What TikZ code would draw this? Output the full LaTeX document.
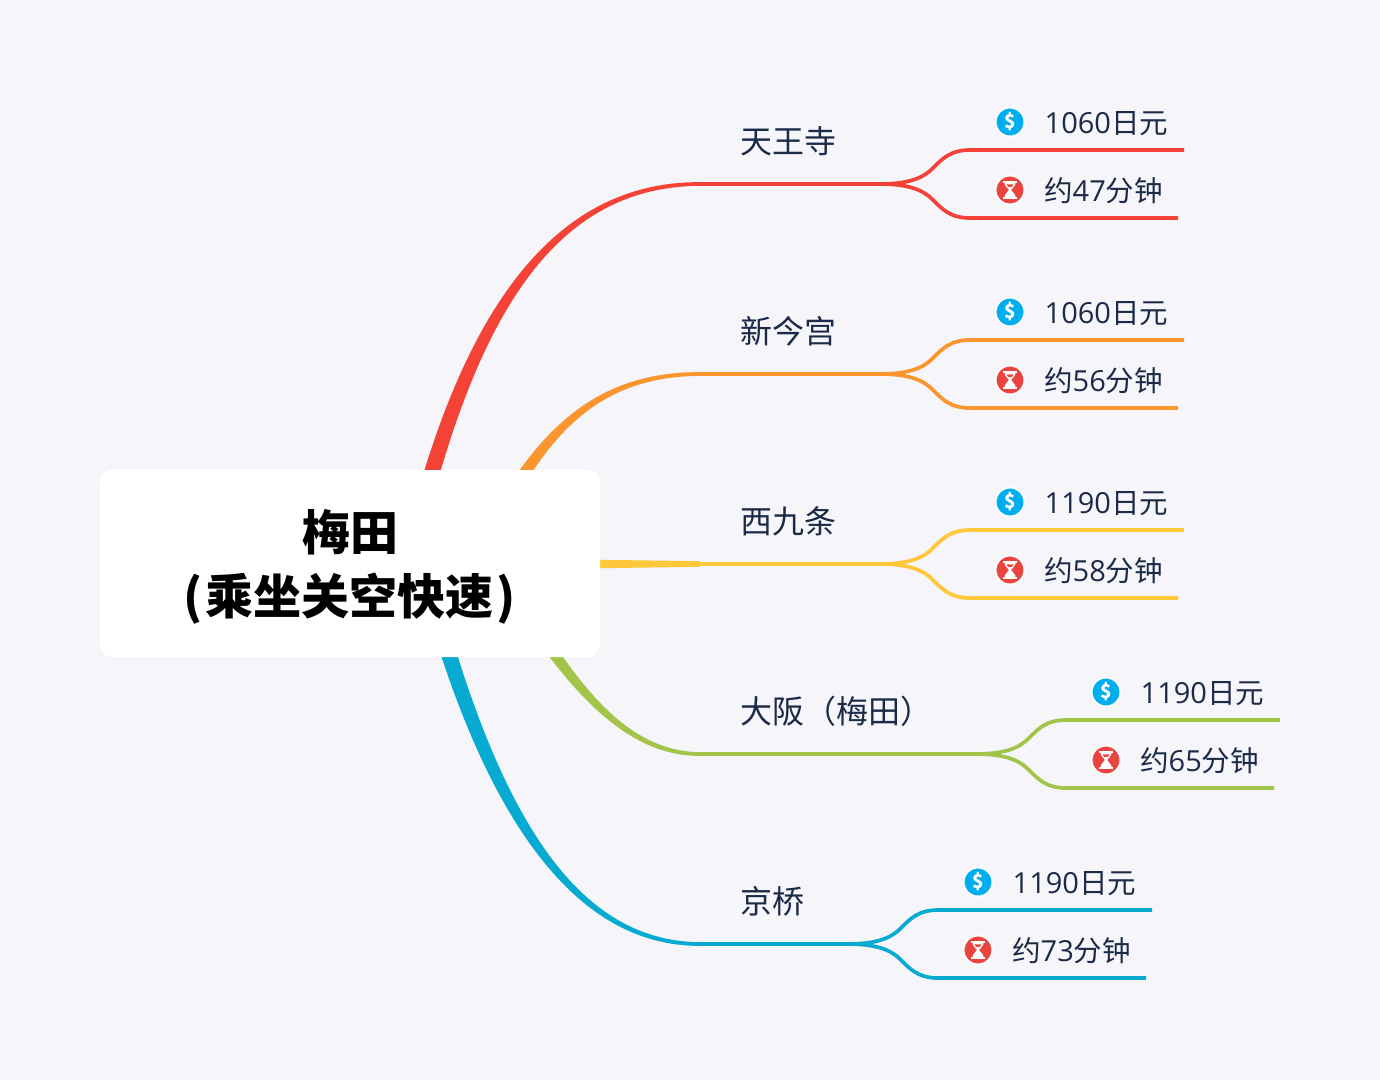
\documentclass[tikz,border=0pt]{standalone}
\usepackage{fontspec}
\setmainfont{Noto Sans CJK SC}
\newfontfamily\digf{Open Sans}
\usetikzlibrary{calc}
\definecolor{bgc}{HTML}{F5F5FA}
\definecolor{inkc}{HTML}{1B2A47}
\definecolor{redc}{HTML}{F44336}
\definecolor{orac}{HTML}{FB962E}
\definecolor{yelc}{HTML}{FFC83A}
\definecolor{grnc}{HTML}{A2C449}
\definecolor{bluc}{HTML}{07ABD1}
\definecolor{icoa}{HTML}{00ADEF}
\definecolor{icob}{HTML}{E9443F}
\newcommand{\dg}[1]{{\digf\fontsize{29}{29}\selectfont #1}}
\tikzset{
  rootbox/.style={fill=white,rounded corners=12pt,minimum width=500pt,minimum height=187pt,inner sep=0pt,align=center,text=black,font=\fontsize{48}{64}\selectfont\bfseries},
  topicbox/.style={anchor=base west,inner sep=0pt,text=inkc,font=\fontsize{32}{32}\selectfont},
  leafbox/.style={anchor=base west,inner sep=0pt,text=inkc,font=\fontsize{28.5}{28.5}\selectfont},
  icobase/.style={circle,minimum size=28.5pt,inner sep=0pt,draw=white,line width=1.5pt,text=white},
  costicon/.style={icobase,fill=icoa,font=\fontsize{19}{19}\selectfont\bfseries},
  timeicon/.style={icobase,fill=icob},
  linkline/.style={line width=3.7pt},
  pics/hourglass/.style={code={
    \begin{scope}[scale=1.25]
    \fill[white] (-5.5,-7.2) rectangle (5.5,-5.8);
    \fill[white] (-5.5,5.8) rectangle (5.5,7.2);
    \fill[white] (-4.2,-5.8) -- (4.2,-5.8) -- (4.2,-4.2) -- (0.9,0) -- (4.2,4.2) -- (4.2,5.8) -- (-4.2,5.8) -- (-4.2,4.2) -- (-0.9,0) -- (-4.2,-4.2) -- cycle;
    \fill[icob] (-2.9,-4.6) -- (2.9,-4.6) -- (1.6,-2.6) -- (-1.6,-2.6) -- cycle;
    \end{scope}
  }}
}
% #1 colour, #2 start, #3 control 1, #4 control 2, #5 end, #6 start offset, #7 control-1 offset
\newcommand{\ribbon}[7]{%
  \fill[#1] ($(#2)+(#6)$) .. controls ($(#3)+(#7)$) and ($(#4)+(0,2.6)$) .. ($(#5)+(0,1.85)$)
    -- ($(#5)+(0,-1.85)$) .. controls ($(#4)+(0,-2.6)$) and ($(#3)-(#7)$) .. ($(#2)-(#6)$) -- cycle;
}
% #1 id, #2 colour, #3 leaf shift, #4 y of the branch, #5 topic, #6 cost, #7 time
\newcommand{\branchset}[7]{%
  \begin{scope}[shift={(700,#4)}]
    \node[topicbox] (t#1) at (40,-31) {#5};
    \coordinate (k#1) at (0,0);
    \coordinate (s#1) at (180+#3,0);
    \coordinate (m#1u) at (232+#3,-15);
    \coordinate (m#1d) at (232+#3,15);
    \coordinate (e#1u) at (270+#3,-34);
    \coordinate (e#1d) at (270+#3,34);
    \coordinate (f#1u) at (484+#3,-34);
    \coordinate (f#1d) at (478+#3,34);
    \node[costicon] (c#1) at (310+#3,-62) {\$};
    \node[timeicon] (h#1) at (310+#3,6) {};
    \pic at (h#1) {hourglass};
    \node[leafbox] (a#1) at (344.5+#3,-51) {#6};
    \node[leafbox] (b#1) at (344+#3,17) {#7};
    \draw[#2,linkline] (k#1) -- (s#1);
    \draw[#2,linkline] (s#1) .. controls +(26,0) and ($(m#1u)+(-10,10)$) .. (m#1u) .. controls +(10,-10) and ($(e#1u)+(-20,0)$) .. (e#1u) -- (f#1u);
    \draw[#2,linkline] (s#1) .. controls +(26,0) and ($(m#1d)+(-10,-10)$) .. (m#1d) .. controls +(10,10) and ($(e#1d)+(-20,0)$) .. (e#1d) -- (f#1d);
  \end{scope}
}
\begin{document}
\begin{tikzpicture}[x=1pt,y=-1pt]
\useasboundingbox (0,0) rectangle (1380,1080);
\fill[bgc] (0,0) rectangle (1380,1080);
% tapered main branches
\coordinate (ra) at (408,564); \coordinate (ra1) at (466,310); \coordinate (ra2) at (555,184); \coordinate (rae) at (700,184);
\coordinate (rb) at (475,564); \coordinate (rb1) at (532,440); \coordinate (rb2) at (590,374); \coordinate (rbe) at (700,374);
\coordinate (rc) at (350,564); \coordinate (rce) at (700,564);
\coordinate (rd) at (496,564); \coordinate (rd1) at (560,670); \coordinate (rd2) at (617,754); \coordinate (rde) at (700,754);
\coordinate (re) at (423,564); \coordinate (re1) at (485,805); \coordinate (re2) at (570,944); \coordinate (ree) at (700,944);
\ribbon{redc}{ra}{ra1}{ra2}{rae}{8,2}{7.4,3}
\ribbon{orac}{rb}{rb1}{rb2}{rbe}{7.2,3.5}{5,3.2}
\ribbon{grnc}{rd}{rd1}{rd2}{rde}{-7.2,3.5}{-5,3.2}
\ribbon{bluc}{re}{re1}{re2}{ree}{-8,2}{-7.4,3}
\fill[yelc] ($(rc)+(0,-7.7)$) -- ($(rce)+(0,-2.8)$) -- ($(rce)+(0,2.8)$) -- ($(rc)+(0,7.7)$) -- cycle;
\node[rootbox] (root) at (350,563.5) {\raisebox{-3pt}[\height][\depth]{梅田}\\\raisebox{-3pt}[\height][\depth]{(\kern3pt 乘坐关空快速\kern3pt)}};
\branchset{1}{redc}{0}{184}{天王寺}{\dg{1060}日元}{约\dg{47}分钟}
\branchset{2}{orac}{0}{374}{新今宫}{\dg{1060}日元}{约\dg{56}分钟}
\branchset{3}{yelc}{0}{564}{西九条}{\dg{1190}日元}{约\dg{58}分钟}
\branchset{4}{grnc}{96}{754}{大阪（梅田）}{\dg{1190}日元}{约\dg{65}分钟}
\branchset{5}{bluc}{-32}{944}{京桥}{\dg{1190}日元}{约\dg{73}分钟}
\end{tikzpicture}
\end{document}
